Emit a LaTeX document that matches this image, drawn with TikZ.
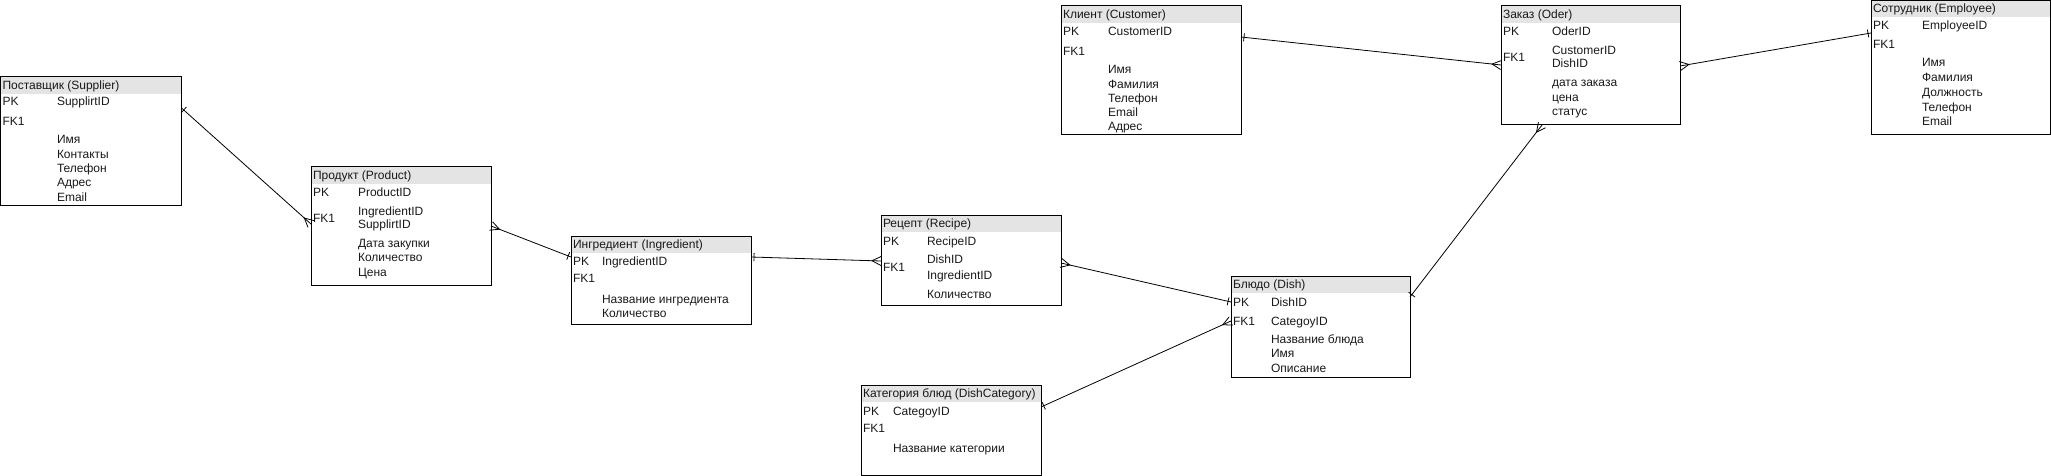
\documentclass[tikz,border=0pt]{standalone}
\usepackage{fontspec}
\setmainfont{Liberation Sans}
\usetikzlibrary{calc}
\definecolor{headfill}{RGB}{228,228,228}
\definecolor{txtcol}{RGB}{25,25,25}
\tikzset{
 ebox/.style={draw=black, line width=1pt, inner sep=0pt, outer sep=0pt, anchor=north west},
 txt/.style={anchor=base west, inner sep=0pt, outer sep=0pt, font=\fontsize{12}{14}\selectfont, text=txtcol},
 conn/.style={draw=black, line width=0.8pt},
}
\newcommand\entity[6]{%
  \fill[headfill] (#2,#3) rectangle ++(#4,17);
  \node[ebox, minimum width=#4pt, minimum height=#5pt] (#1) at (#2,#3) {};
  \node[txt] (#1-t) at ($(#1.north west)+(2,12.5)$) {#6};
}
\newcommand\onemark[2]{\draw[conn] ($(#1)!3pt!(#2)!4pt!90:(#2)$) -- ($(#1)!3pt!(#2)!4pt!-90:(#2)$);}
\newcommand\manymark[2]{\draw[conn] ($(#1)!4.5pt!90:(#2)$) -- ($(#1)!9pt!(#2)$) -- ($(#1)!4.5pt!-90:(#2)$);}
\newcommand\relation[2]{\draw[conn] (#1) -- (#2);}
\begin{document}
\begin{tikzpicture}[x=1pt,y=-1pt]
\useasboundingbox (0,0) rectangle (2051,476);

% Supplier
\entity{sup}{0.5}{77}{181}{128}{Поставщик (Supplier)}
\node[txt] (sup-pk) at (2.5,106) {PK};
\node[txt] (sup-pkv) at (57,106) {SupplirtID};
\node[txt] (sup-fk) at (2.5,126) {FK1};
\foreach \t [count=\i] in {Имя,Контакты,Телефон,Адрес,Email}
  \node[txt] (sup-a\i) at (57,{144+(\i-1)*14.25}) {\t};

% Product
\entity{prod}{311}{167}{180}{118}{Продукт (Product)}
\node[txt] (prod-pk) at (313,196) {PK};
\node[txt] (prod-pkv) at (358,196) {ProductID};
\node[txt] (prod-fk) at (313,222) {FK1};
\node[txt] (prod-fk1) at (358,215) {IngredientID};
\node[txt] (prod-fk2) at (358,228) {SupplirtID};
\foreach \t [count=\i] in {Дата закупки,Количество,Цена}
  \node[txt] (prod-a\i) at (358,{247+(\i-1)*14.5}) {\t};

% Ingredient
\entity{ing}{571}{236}{180}{88}{Ингредиент (Ingredient)}
\node[txt] (ing-pk) at (573,265) {PK};
\node[txt] (ing-pkv) at (602,265) {IngredientID};
\node[txt] (ing-fk) at (573,282) {FK1};
\foreach \t [count=\i] in {Название ингредиента,Количество}
  \node[txt] (ing-a\i) at (602,{303+(\i-1)*14.5}) {\t};

% Recipe
\entity{rec}{881}{215}{180}{90}{Рецепт (Recipe)}
\node[txt] (rec-pk) at (883,245) {PK};
\node[txt] (rec-pkv) at (927,245) {RecipeID};
\node[txt] (rec-fk) at (883,271) {FK1};
\node[txt] (rec-fk1) at (927,263) {DishID};
\node[txt] (rec-fk2) at (927,279) {IngredientID};
\node[txt] (rec-a1) at (927,298) {Количество};

% Dish
\entity{dish}{1231}{276}{179}{101}{Блюдо (Dish)}
\node[txt] (dish-pk) at (1233,306) {PK};
\node[txt] (dish-pkv) at (1271,306) {DishID};
\node[txt] (dish-fk) at (1233,325) {FK1};
\node[txt] (dish-fk1) at (1271,325) {CategoyID};
\foreach \t [count=\i] in {Название блюда,Имя,Описание}
  \node[txt] (dish-a\i) at (1271,{343+(\i-1)*14.5}) {\t};

% Customer
\entity{cus}{1061}{6}{180}{129}{Клиент (Customer)}
\node[txt] (cus-pk) at (1063,36) {PK};
\node[txt] (cus-pkv) at (1108,36) {CustomerID};
\node[txt] (cus-fk) at (1063,56) {FK1};
\foreach \t [count=\i] in {Имя,Фамилия,Телефон,Email,Адрес}
  \node[txt] (cus-a\i) at (1108,{74+(\i-1)*14.25}) {\t};

% Order
\entity{ord}{1501}{6}{179}{119}{Заказ (Oder)}
\node[txt] (ord-pk) at (1503,36) {PK};
\node[txt] (ord-pkv) at (1552,36) {OderID};
\node[txt] (ord-fk) at (1503,62) {FK1};
\node[txt] (ord-fk1) at (1552,55) {CustomerID};
\node[txt] (ord-fk2) at (1552,68) {DishID};
\foreach \t [count=\i] in {дата заказа,цена,статус}
  \node[txt] (ord-a\i) at (1552,{87+(\i-1)*14.5}) {\t};

% Employee
\entity{emp}{1871}{0.5}{179}{134.5}{Сотрудник (Employee)}
\node[txt] (emp-pk) at (1873,30) {PK};
\node[txt] (emp-pkv) at (1922,30) {EmployeeID};
\node[txt] (emp-fk) at (1873,49) {FK1};
\foreach \t [count=\i] in {Имя,Фамилия,Должность,Телефон,Email}
  \node[txt] (emp-a\i) at (1922,{67+(\i-1)*14.75}) {\t};

% Dish category
\entity{cat}{861}{385}{180}{90}{Категория блюд (DishCategory)}
\node[txt] (cat-pk) at (863,415) {PK};
\node[txt] (cat-pkv) at (893,415) {CategoyID};
\node[txt] (cat-fk) at (863,432) {FK1};
\node[txt] (cat-a1) at (893,452) {Название категории};

% connector end points
\coordinate (sup-r) at ($(sup.north east)+(0,31)$);
\coordinate (prod-l) at ($(prod.north west)+(0,57)$);
\coordinate (prod-r) at ($(prod.north east)+(0,59)$);
\coordinate (ing-l) at ($(ing.north west)+(0,21)$);
\coordinate (ing-r) at ($(ing.north east)+(0,21)$);
\coordinate (rec-l) at ($(rec.north west)+(0,46)$);
\coordinate (rec-r) at ($(rec.north east)+(0,48)$);
\coordinate (dish-l1) at ($(dish.north west)+(0,26)$);
\coordinate (cat-r) at ($(cat.north east)+(0,22)$);
\coordinate (dish-l2) at ($(dish.north west)+(0,45)$);
\coordinate (dish-r) at ($(dish.north east)+(0,21)$);
\coordinate (ord-b) at ($(ord.south west)+(41,0)$);
\coordinate (cus-r) at ($(cus.north east)+(0,31)$);
\coordinate (ord-l) at ($(ord.north west)+(0,59)$);
\coordinate (ord-r) at ($(ord.north east)+(0,60)$);
\coordinate (emp-l) at ($(emp.north west)+(0,32.5)$);

% relations
\relation{sup-r}{prod-l} \onemark{sup-r}{prod-l} \manymark{prod-l}{sup-r}
\relation{prod-r}{ing-l} \manymark{prod-r}{ing-l} \onemark{ing-l}{prod-r}
\relation{ing-r}{rec-l} \onemark{ing-r}{rec-l} \manymark{rec-l}{ing-r}
\relation{rec-r}{dish-l1} \manymark{rec-r}{dish-l1} \onemark{dish-l1}{rec-r}
\relation{cat-r}{dish-l2} \onemark{cat-r}{dish-l2} \manymark{dish-l2}{cat-r}
\relation{dish-r}{ord-b} \onemark{dish-r}{ord-b} \manymark{ord-b}{dish-r}
\relation{cus-r}{ord-l} \onemark{cus-r}{ord-l} \manymark{ord-l}{cus-r}
\relation{ord-r}{emp-l} \manymark{ord-r}{emp-l} \onemark{emp-l}{ord-r}
\end{tikzpicture}
\end{document}
